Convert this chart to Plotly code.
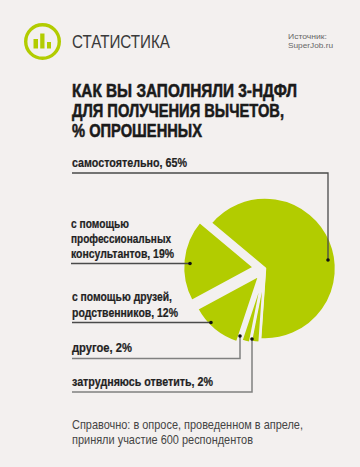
import json
import plotly.graph_objects as go

categories = ["самостоятельно", "затрудняюсь ответить", "другое",
              "с помощью друзей, родственников", "с помощью профессиональных консультантов"]
values = [65, 2, 2, 12, 19]

W, H = 360, 467
BG = "#f3f0ef"
GREEN = "#b2cc00"
DARK = "#4a4a4a"
SANS = "Liberation Sans, Arial"

def px(x): return x / W
def py(y): return 1 - y / H

fig = go.Figure(go.Pie(
    labels=categories, values=values, sort=False, direction="clockwise", rotation=310,
    pull=[0.0, 0.05, 0.07, 0.12, 0.155],
    marker=dict(colors=[GREEN] * 5, line=dict(color=BG, width=2.5)),
    textinfo="none", hoverinfo="label+percent", showlegend=False,
    domain=dict(x=[px(183), px(347)], y=[py(350.5), py(186.5)]),
))

# text, x, y, font size, colour, bold, target width in px
texts = [
    ("СТАТИСТИКА", 72, 41, 18.5, "#3a3a3a", False, 98),
    ("Источник:", 288, 36.3, 7.6, "#666666", False, 39),
    ("SuperJob.ru", 288, 45.8, 7.6, "#666666", False, 45),
    ("КАК ВЫ ЗАПОЛНЯЛИ 3-НДФЛ", 72, 90, 18.5, "#1a1a1a", True, 225),
    ("ДЛЯ ПОЛУЧЕНИЯ ВЫЧЕТОВ,", 72, 110, 18.5, "#1a1a1a", True, 212),
    ("% ОПРОШЕННЫХ", 72, 130, 18.5, "#1a1a1a", True, 130),
    ("самостоятельно, 65%", 72, 163, 12.5, "#222222", True, 115),
    ("с помощью", 71, 224, 12.5, "#222222", True, 58),
    ("профессиональных", 71, 239, 12.5, "#222222", True, 100),
    ("консультантов, 19%", 71, 254, 12.5, "#222222", True, 103),
    ("с помощью друзей,", 72, 297, 12.5, "#222222", True, 100),
    ("родственников, 12%", 72, 313, 12.5, "#222222", True, 106),
    ("другое, 2%", 72, 348, 12.5, "#222222", True, 60),
    ("затрудняюсь ответить, 2%", 72, 382, 12.5, "#222222", True, 141),
    ("Справочно: в опросе, проведенном в апреле,", 72, 424, 13, "#444444", False, 231),
    ("приняли участие 600 респондентов", 72, 439, 13, "#444444", False, 181),
]
annotations = []
for t, x, y, size, color, bold, _ in texts:
    annotations.append(dict(
        text=t, x=px(x - 2), y=py(y), xref="paper", yref="paper",
        xanchor="left", yanchor="middle", showarrow=False, align="left",
        font=dict(size=size, color=color, family=SANS, weight=700 if bold else 400)))

shapes = []
def line(pts, color=DARK, width=1.3):
    path = "M " + " L ".join(f"{px(a)} {py(b)}" for a, b in pts)
    shapes.append(dict(type="path", path=path, xref="paper", yref="paper",
                       line=dict(color=color, width=width), fillcolor="rgba(0,0,0,0)"))
def dot(x, y, r=1.8):
    shapes.append(dict(type="circle", xref="paper", yref="paper",
                       x0=px(x - r), x1=px(x + r), y0=py(y + r), y1=py(y - r),
                       fillcolor="#111111", line=dict(width=0)))

line([(72, 173), (328, 173), (328, 260)])
dot(328, 260)
line([(71, 263.5), (190, 263.5)])
dot(190, 263.5)
line([(72, 322.5), (211, 322.5)])
dot(211, 322.5)
line([(72, 358.5), (240, 358.5), (240, 336)], color="#808080", width=1.5)
dot(240, 336)
line([(72, 392), (252, 392), (252, 339)], color="#808080", width=1.5)
dot(252, 339)

# logo
shapes.append(dict(type="circle", xref="paper", yref="paper",
                   x0=px(25.7), x1=px(59.3), y0=py(58.3), y1=py(24.7),
                   line=dict(color=GREEN, width=3.4), fillcolor="rgba(0,0,0,0)"))
for x0, x1, top in [(33.5, 38, 39), (40.2, 44.5, 33.5), (47, 51, 42)]:
    shapes.append(dict(type="rect", xref="paper", yref="paper",
                       x0=px(x0), x1=px(x1), y0=py(48.5), y1=py(top),
                       fillcolor=GREEN, line=dict(width=0)))

fig.update_layout(width=W, height=H, margin=dict(l=0, r=0, t=0, b=0),
                  paper_bgcolor=BG, plot_bgcolor=BG,
                  annotations=annotations, shapes=shapes)

# No narrow font is installed: condense each real text to the reference's width.
widths = {t: w for t, *_, w in texts}
strokes = {t: (0.55 if s > 15 else 0.2) for t, _, _, s, _, b, _ in texts if b}
post = """
document.body.style.margin = '0';
document.body.style.background = '%s';
var W_MAP = %s, S_MAP = %s;
function fit() {
  document.querySelectorAll('.annotation-text').forEach(function (el) {
    var k = el.textContent, w = W_MAP[k];
    if (w) { el.setAttribute('textLength', w); el.setAttribute('lengthAdjust', 'spacingAndGlyphs'); }
    if (S_MAP[k]) { el.style.stroke = el.style.fill; el.style.strokeWidth = S_MAP[k] + 'px'; }
  });
}
fit(); setTimeout(fit, 30);
""" % (BG, json.dumps(widths, ensure_ascii=False), json.dumps(strokes, ensure_ascii=False))
fig.write_html("out.html", config=dict(displayModeBar=False), post_script=post)
